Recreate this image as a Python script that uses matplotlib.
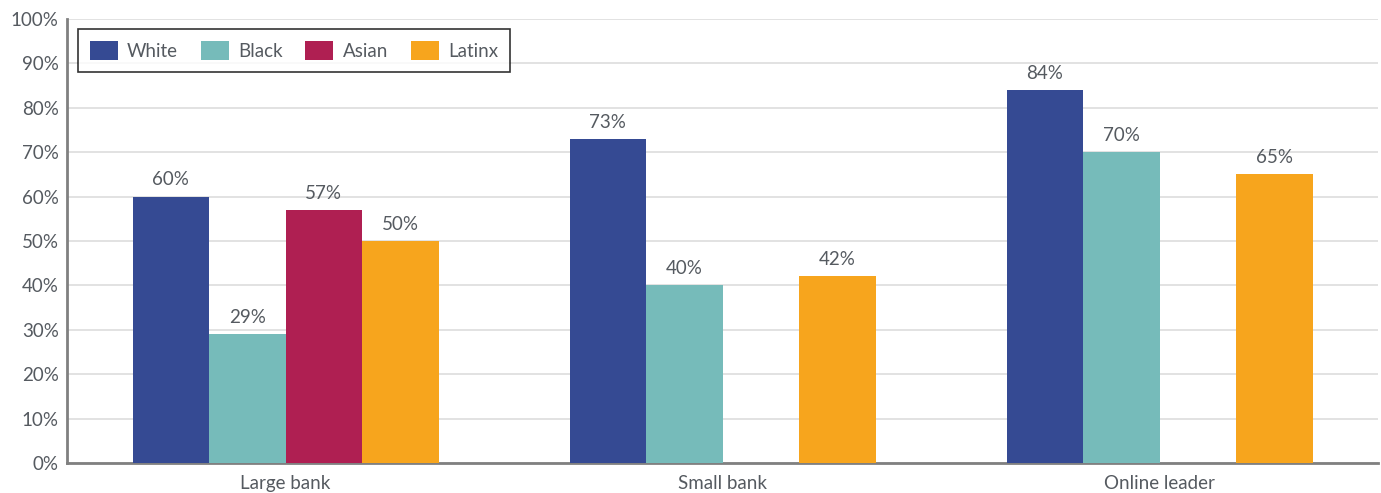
import matplotlib

matplotlib.use("Agg")
import matplotlib.pyplot as plt
import numpy as np

plt.rcParams["font.family"] = ["Lato", "DejaVu Sans"]

categories = ["Large bank", "Small bank", "Online leader"]
series = ["White", "Black", "Asian", "Latinx"]
white = [60, 73, 84]
black = [29, 40, 70]
asian = [57, None, None]
latinx = [50, 42, 65]
colors = ["#354A93", "#76BBBA", "#AF1F52", "#F7A51D"]

TEXT = "#555a60"

fig = plt.figure(figsize=(13.81, 4.93), dpi=100)
ax = fig.add_axes([0.0485, 0.061, 0.9495, 0.9005])

x = np.arange(len(categories))
w = 0.175
for i, (name, vals, col) in enumerate(zip(series, [white, black, asian, latinx], colors)):
    xs = [xi + (i - 1.5) * w for xi, v in zip(x, vals) if v is not None]
    vs = [v for v in vals if v is not None]
    ax.bar(xs, vs, width=w, color=col, label=name, zorder=3)
    for xx, v in zip(xs, vs):
        ax.annotate(f"{v}%", (xx, v), xytext=(0, 6), textcoords="offset points",
                    ha="center", va="bottom", fontsize=13.5, color=TEXT)

ax.set_xlim(-0.5, 2.5)
ax.set_ylim(0, 100)
ax.set_yticks(np.arange(0, 101, 10))
ax.set_yticklabels([f"{v}%" for v in range(0, 101, 10)])
ax.set_xticks(x)
ax.set_xticklabels(categories)
ax.tick_params(axis="both", length=0, labelsize=13.5, colors=TEXT, pad=6)
ax.tick_params(axis="x", pad=9)
ax.grid(axis="y", color="#dddddd", lw=1.2, zorder=0)
for s in ["top", "right"]:
    ax.spines[s].set_visible(False)
for s in ["left", "bottom"]:
    ax.spines[s].set_color("#808080")
    ax.spines[s].set_linewidth(2)

leg = ax.legend(loc="upper left", bbox_to_anchor=(0.0084, 0.977), borderaxespad=0,
                ncol=4, fontsize=13.5, frameon=True, fancybox=False, edgecolor="black",
                handlelength=1.5, handleheight=1.2, handletextpad=0.5,
                columnspacing=1.2, borderpad=0.62, labelcolor=TEXT)
leg.get_frame().set_linewidth(1.2)

fig.savefig("out.png", dpi=100)
